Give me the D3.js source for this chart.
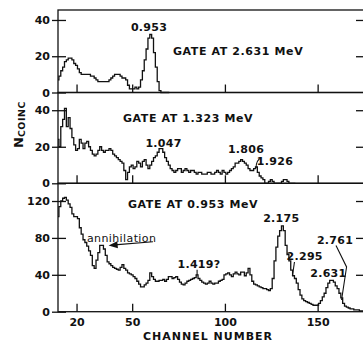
<!DOCTYPE html>
<html><head><meta charset="utf-8">
<script src="https://cdn.jsdelivr.net/npm/d3@7"></script>
<style>
body{margin:0;background:#fff}
svg{display:block}
text{font-family:"DejaVu Sans",sans-serif;fill:#111}
</style>
</head><body>
<svg id="chart" width="363" height="343"></svg>
<script>
// ---------- data ----------
const firstChannel = 10;
// gate at 2.631 MeV, counts per channel starting at channel 10
const gate2631 = [7,9,12,14,17,18,19,19,18,16, 15,13,11,10,10,10,10,10,9,9,
  8,7,6,6,6,6,6,6,7,8, 9,10,10,10,9,8,8,7,4,2, 2,2,3,2,3,7,12,18,24,30,
  32,30,22,14,6,1,0,0,0,0,0];
// gate at 1.323 MeV
const gate1323 = [24,20,31,35,41,31,36,30,25,21, 18,19,24,22,19,22,23,20,18,16,
  15,16,18,20,18,17,18,18,19,18, 16,15,14,13,12,11,7,2,6,9, 10,8,9,12,11,9,12,13,10,8,
  10,12,14,15,17,19,19,17,14,12, 10,8,7,6,7,8,8,6,7,8, 7,6,7,7,6,5,6,6,5,5,
  5,6,6,5,5,6,7,6,5,7, 6,5,6,7,8,9,11,11,12,13, 12,11,10,8,7,7,8,9,6,4,
  3,2,0,0,1,2,1,0,0,0, 0,1,2,2,1,0,0,0,0];
// gate at 0.953 MeV
const gate0953 = [103,114,120,123,124,121,117,113,106,103, 103,101,91,84,78,75,71,66,61,50,
  47,56,64,72,72,68,61,54,52,50, 48,47,46,45,48,51,47,45,42,41, 40,38,36,33,30,27,27,29,31,34,
  42,38,35,33,33,34,34,35,33,35, 38,38,36,37,38,35,32,30,29,31, 33,34,35,36,37,40,36,34,32,31,
  30,31,33,31,30,31,31,33,34,35, 40,41,42,40,38,41,43,41,40,43, 43,39,42,47,40,33,30,29,28,27,
  26,25,25,24,23,25,36,55,70,82, 88,93,88,72,62,55,45,39,36,31, 24,18,14,12,11,10,9,8,7,7,
  7,9,12,16,20,26,31,34,34,32, 28,25,20,15,9,6,5,4,3,3, 2,2,2,1,1,1];

const xTickValues = [20, 50, 100, 150];
const yTicksTop = [0, 20, 40];
const yTicksMid = [0, 20, 40];
const yTicksBot = [0, 40, 80, 120];
const panelTitles = ["GATE AT 2.631 MeV", "GATE AT 1.323 MeV", "GATE AT 0.953 MeV"];
const xTitle = "CHANNEL NUMBER";

// peak labels: [text, channel, value]  (value = baseline height of the label)
const labelsTop = [["0.953", 59.1, 33.9]];
const labelsMid = [["1.047", 66.9, 19.7], ["1.806", 111.4, 16.4], ["1.926", 127, 10.1]];
const labelsBot = [["2.175", 130.4, 97.6], ["2.761", 159.4, 73.9], ["2.295", 143, 56],
                   ["2.631", 155.8, 37.1], ["1.419?", 86, 47], ["annihilation", 44.3, 76.1]];
const titlePos = [[72, 20.7], [45, 33.7], [47.7, 111.9]];

// ---------- layout ----------
const svg = d3.select("#chart");
const left = 58, right = 364;
const x = d3.scaleLinear().domain([10, 175]).range([left, right]);

const panels = [
  {data: gate2631, y: d3.scaleLinear().domain([0, 45.5]).range([92.5, 10]), ticks: yTicksTop, labels: labelsTop},
  {data: gate1323, y: d3.scaleLinear().domain([0, 49.7]).range([183.3, 92.5]), ticks: yTicksMid, labels: labelsMid},
  {data: gate0953, y: d3.scaleLinear().domain([0, 139.2]).range([311.7, 183.3]), ticks: yTicksBot, labels: labelsBot}
];

const ink = "#111";

panels.forEach((p, i) => {
  const g = svg.append("g");
  const [y0, y1] = p.y.range();
  g.append("rect").attr("x", left).attr("y", y1).attr("width", right - left).attr("height", y0 - y1)
    .attr("fill", "none").attr("stroke", ink).attr("stroke-width", 1.3);

  const ax = g.append("g").attr("transform", `translate(${left},0)`)
    .call(d3.axisLeft(p.y).tickValues(p.ticks).tickSize(-8).tickPadding(8).tickFormat(d3.format("d")));
  ax.select(".domain").remove();
  ax.selectAll("line").attr("x1", -6).attr("x2", 8).attr("stroke", ink).attr("stroke-width", 1.3);
  ax.selectAll("text").attr("font-size", 11).attr("font-weight", "bold").attr("fill", ink)
    .attr("font-family", '"DejaVu Sans",sans-serif');

  const ar = g.append("g").attr("transform", `translate(${right},0)`)
    .call(d3.axisRight(p.y).tickValues(p.ticks.filter(d => d > 0)).tickSize(-8).tickFormat(""));
  ar.select(".domain").remove();
  ar.selectAll("line").attr("stroke", ink).attr("stroke-width", 1.3);

  const ab = g.append("g").attr("transform", `translate(0,${y0})`)
    .call(d3.axisBottom(x).tickValues(xTickValues).tickSize(-8).tickPadding(7)
      .tickFormat(i === 2 ? d3.format("d") : ""));
  ab.select(".domain").remove();
  ab.selectAll("line").attr("stroke", ink).attr("stroke-width", 1.3);
  ab.selectAll("text").attr("font-size", 11).attr("font-weight", "bold").attr("fill", ink)
    .attr("font-family", '"DejaVu Sans",sans-serif');

  const pts = p.data.map((v, k) => [firstChannel + k, v]);
  const line = d3.line().x(d => x(d[0])).y(d => p.y(d[1])).curve(d3.curveStep);
  g.append("path").datum(pts).attr("d", line).attr("fill", "none")
    .attr("stroke", ink).attr("stroke-width", 1.3).attr("stroke-linejoin", "miter");

  g.append("text").attr("x", x(titlePos[i][0])).attr("y", p.y(titlePos[i][1]))
    .attr("font-size", 11).attr("font-weight", "bold").attr("letter-spacing", 0.6)
    .text(panelTitles[i]);

  p.labels.forEach(([t, c, v]) => {
    g.append("text").attr("x", x(c)).attr("y", p.y(v)).attr("text-anchor", "middle")
      .attr("font-size", 11).attr("font-weight", t === "annihilation" ? "normal" : "bold")
      .attr("letter-spacing", t === "annihilation" ? 0.4 : 0.3)
      .text(t);
  });
});

// leader lines
const yM = panels[1].y, yB = panels[2].y;
const stroke = sel => sel.attr("fill", "none").attr("stroke", ink).attr("stroke-width", 1.1);
svg.append("path").attr("d", `M${x(119.5)},${yM(13.9)} Q${x(116.8)},${yM(12.8)} ${x(116.8)},${yM(8.4)}`).call(stroke);
svg.append("line").attr("x1", x(85)).attr("x2", x(85)).attr("y1", yB(45.6)).attr("y2", yB(39.8)).call(stroke);
svg.append("line").attr("x1", x(137.5)).attr("y1", yB(53.9)).attr("x2", x(136.4)).attr("y2", yB(38.7)).call(stroke);
svg.append("path").attr("d", `M${x(159.9)},${yB(71.8)} L${x(165.6)},${yB(48.5)} L${x(162.9)},${yB(12.7)}`).call(stroke);

// annihilation arrow (line + filled head)
const ax0 = x(61.2), ay0 = yB(75.9), ax1 = x(37.3), ay1 = yB(71.8);
svg.append("line").attr("x1", ax0).attr("y1", ay0).attr("x2", ax1 + 6).attr("y2", ay1 - 0.6).call(stroke);
const ang = Math.atan2(ay1 - ay0, ax1 - ax0);
const hl = 9, hw = 3.5;
const bx = ax1 - hl * Math.cos(ang), by = ay1 - hl * Math.sin(ang);
svg.append("path")
  .attr("d", `M${ax1},${ay1} L${bx - hw * Math.sin(ang)},${by + hw * Math.cos(ang)} L${bx + hw * Math.sin(ang)},${by - hw * Math.cos(ang)} Z`)
  .attr("fill", ink);

svg.append("text").attr("x", 208).attr("y", 340).attr("text-anchor", "middle")
  .attr("font-size", 11).attr("font-weight", "bold").attr("letter-spacing", 1).text(xTitle);

const yt = svg.append("text").attr("transform", "translate(23,148) rotate(-90)")
  .attr("font-weight", "bold");
yt.append("tspan").attr("font-size", 13).text("N");
yt.append("tspan").attr("font-size", 9.5).attr("dy", 1.5).attr("letter-spacing", 0.5).text("COINC");
</script>
</body></html>
